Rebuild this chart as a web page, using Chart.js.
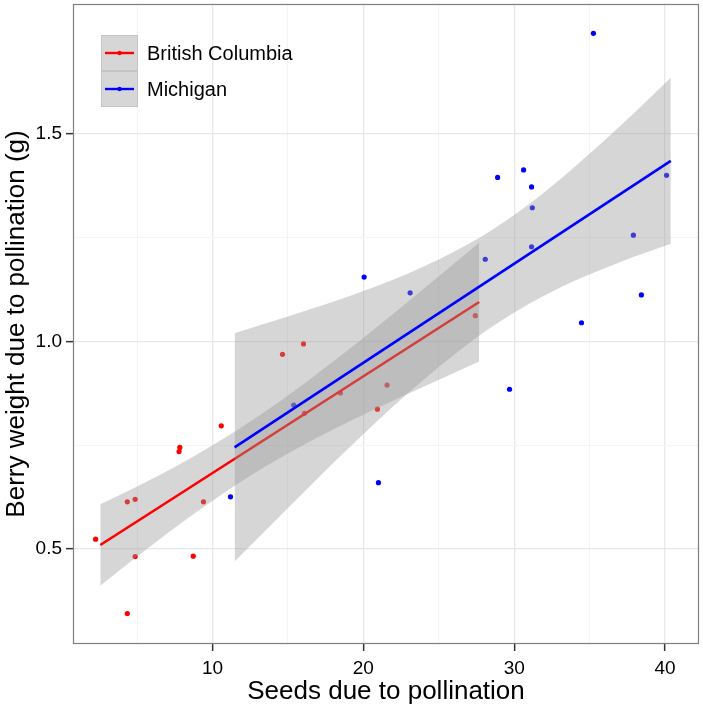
<!DOCTYPE html>
<html>
<head>
<meta charset="utf-8">
<script src="https://cdn.jsdelivr.net/npm/chart.js@4/dist/chart.umd.min.js"></script>
<style>
  html, body { margin: 0; padding: 0; background: #ffffff; }
  #c { display: block; }
</style>
</head>
<body>
<canvas id="c" width="703" height="708"></canvas>
<script>
// ---- data ----
const seriesNames = ['British Columbia', 'Michigan'];

const bcSeeds  = [2.25, 4.35, 4.35, 4.87, 4.87, 7.83, 7.78, 8.72, 9.4, 10.58, 14.64, 16.03, 16.1, 18.48, 20.93, 21.57, 27.42];
const bcWeight = [0.524, 0.345, 0.614, 0.62, 0.482, 0.745, 0.735, 0.483, 0.614, 0.797, 0.969, 0.994, 0.827, 0.876, 0.837, 0.895, 1.062];

const miSeeds  = [11.19, 15.38, 20.05, 21.0, 23.1, 28.08, 28.9, 29.69, 30.62, 31.15, 31.2, 31.15, 34.46, 35.25, 37.9, 38.43, 40.1];
const miWeight = [0.626, 0.847, 1.155, 0.66, 1.117, 1.198, 1.395, 0.885, 1.413, 1.372, 1.322, 1.228, 1.045, 1.742, 1.256, 1.112, 1.4];

// fitted lines (end points)
const bcFitX = [2.56, 27.68];
const bcFitY = [0.510, 1.095];
const miFitX = [11.46, 40.38];
const miFitY = [0.745, 1.435];

// confidence bands
const bcBandX     = [2.56, 5, 8, 11.77, 15, 19, 23, 27.68];
const bcBandUpper = [0.608, 0.651, 0.708, 0.790, 0.870, 0.980, 1.097, 1.238];
const bcBandLower = [0.412, 0.482, 0.565, 0.660, 0.730, 0.806, 0.875, 0.952];

const miBandX     = [11.46, 15, 19, 23, 27, 29, 31, 34, 37, 40.38];
const miBandUpper = [1.020, 1.060, 1.108, 1.164, 1.235, 1.280, 1.331, 1.420, 1.518, 1.635];
const miBandLower = [0.470, 0.599, 0.742, 0.877, 0.996, 1.047, 1.091, 1.146, 1.191, 1.235];

// ticks
const xMajorTicks = [10, 20, 30, 40];
const xMinorTicks = [5, 15, 25, 35];
const yMajorTicks = [0.5, 1.0, 1.5];
const yMinorTicks = [0.75, 1.25];

// ---- helpers ----
const pts = (xs, ys) => xs.map((x, i) => ({ x: x, y: ys[i] }));
const FONT = '"Liberation Sans", Arial, Helvetica, sans-serif';
const BAND = 'rgba(153,153,153,0.4)';
const RED = '#ff0000';
const BLUE = '#0000ff';
const seriesColors = [RED, BLUE];

const xMajorSet = new Set(xMajorTicks);
const yMajorSet = new Set(yMajorTicks.map(v => v.toFixed(2)));

const bandLine = { showLine: true, pointRadius: 0, borderWidth: 0, borderColor: 'rgba(0,0,0,0)', cubicInterpolationMode: 'monotone' };

const datasets = [
  Object.assign({ label: 'bcUpper', data: pts(bcBandX, bcBandUpper), fill: '+1', backgroundColor: BAND, order: 8 }, bandLine),
  Object.assign({ label: 'bcLower', data: pts(bcBandX, bcBandLower), fill: false, order: 8 }, bandLine),
  { label: seriesNames[0] + ' fit', data: pts(bcFitX, bcFitY), showLine: true, pointRadius: 0, borderColor: RED, borderWidth: 2.6, fill: false, order: 7 },
  Object.assign({ label: 'miUpper', data: pts(miBandX, miBandUpper), fill: '+1', backgroundColor: BAND, order: 6 }, bandLine),
  Object.assign({ label: 'miLower', data: pts(miBandX, miBandLower), fill: false, order: 6 }, bandLine),
  { label: seriesNames[1] + ' fit', data: pts(miFitX, miFitY), showLine: true, pointRadius: 0, borderColor: BLUE, borderWidth: 2.6, fill: false, order: 5 },
  { label: seriesNames[0], data: pts(bcSeeds, bcWeight), showLine: false, pointRadius: 2.6, pointBackgroundColor: RED, pointBorderWidth: 0, order: 10 },
  { label: seriesNames[1], data: pts(miSeeds, miWeight), showLine: false, pointRadius: 2.6, pointBackgroundColor: BLUE, pointBorderWidth: 0, order: 10 }
];

const panelPlugin = {
  id: 'panelAndLegend',
  afterDraw(chart) {
    const ctx = chart.ctx;
    const a = chart.chartArea;
    ctx.save();
    // panel border
    ctx.strokeStyle = '#7f7f7f';
    ctx.lineWidth = 1.2;
    ctx.strokeRect(a.left + 0.5, a.top + 0.5, a.right - a.left - 1, a.bottom - a.top - 1);

    // legend
    const kx = 101, ky = 35, kw = 37, kh = 36;
    seriesNames.forEach((name, i) => {
      const y0 = ky + i * kh;
      ctx.fillStyle = BAND;
      ctx.fillRect(kx, y0, kw, kh);
      ctx.strokeStyle = '#c4c4c4';
      ctx.lineWidth = 1;
      ctx.strokeRect(kx + 0.5, y0 + 0.5, kw - 1, kh - 1);
      const cy = y0 + kh / 2;
      ctx.strokeStyle = seriesColors[i];
      ctx.lineWidth = 2.4;
      ctx.beginPath();
      ctx.moveTo(kx + 4, cy);
      ctx.lineTo(kx + kw - 4, cy);
      ctx.stroke();
      ctx.fillStyle = seriesColors[i];
      ctx.beginPath();
      ctx.arc(kx + kw / 2, cy, 2.2, 0, Math.PI * 2);
      ctx.fill();
      ctx.fillStyle = '#000000';
      ctx.font = '20px ' + FONT;
      ctx.textBaseline = 'middle';
      ctx.textAlign = 'left';
      ctx.fillText(name, kx + kw + 9, cy + 1);
    });
    ctx.restore();
  }
};

new Chart(document.getElementById('c'), {
  type: 'scatter',
  data: { datasets: datasets },
  plugins: [panelPlugin],
  options: {
    responsive: false,
    animation: false,
    devicePixelRatio: 1,
    layout: { padding: { top: 3, right: -2, left: 0, bottom: 0 } },
    plugins: { legend: { display: false }, tooltip: { enabled: false } },
    scales: {
      x: {
        type: 'linear',
        min: 0.75,
        max: 42.25,
        afterBuildTicks: (s) => { s.ticks = xMinorTicks.concat(xMajorTicks).sort((a, b) => a - b).map(v => ({ value: v })); },
        afterFit: (s) => { s.height = 64; s.paddingLeft = 0; s.paddingRight = 0; },
        border: { display: false },
        grid: {
          color: (c) => (c.tick && xMajorSet.has(c.tick.value)) ? '#e8e8e8' : '#f4f4f4',
          lineWidth: (c) => (c.tick && xMajorSet.has(c.tick.value)) ? 1.3 : 1,
          tickColor: (c) => (c.tick && xMajorSet.has(c.tick.value)) ? '#333333' : 'rgba(0,0,0,0)',
          tickLength: 7,
          tickWidth: 1.5,
          drawTicks: true
        },
        ticks: {
          autoSkip: false,
          maxRotation: 0,
          padding: 6,
          color: '#000000',
          font: { family: FONT, size: 19 },
          callback: (v) => xMajorSet.has(v) ? String(v) : ''
        },
        title: {
          display: true,
          text: 'Seeds due to pollination',
          color: '#000000',
          font: { family: FONT, size: 26 },
          padding: { top: 0, bottom: 1 }
        }
      },
      y: {
        type: 'linear',
        min: 0.2716,
        max: 1.8125,
        afterBuildTicks: (s) => { s.ticks = yMajorTicks.concat(yMinorTicks).sort((a, b) => a - b).map(v => ({ value: v })); },
        afterFit: (s) => { s.width = 73; s.paddingTop = 0; s.paddingBottom = 0; },
        border: { display: false },
        grid: {
          color: (c) => (c.tick && yMajorSet.has(c.tick.value.toFixed(2))) ? '#e8e8e8' : '#f4f4f4',
          lineWidth: (c) => (c.tick && yMajorSet.has(c.tick.value.toFixed(2))) ? 1.3 : 1,
          tickColor: (c) => (c.tick && yMajorSet.has(c.tick.value.toFixed(2))) ? '#333333' : 'rgba(0,0,0,0)',
          tickLength: 7,
          tickWidth: 1.5,
          drawTicks: true
        },
        ticks: {
          autoSkip: false,
          padding: 4,
          color: '#000000',
          font: { family: FONT, size: 19 },
          callback: (v) => yMajorSet.has(Number(v).toFixed(2)) ? Number(v).toFixed(1) : ''
        },
        title: {
          display: true,
          text: 'Berry weight due to pollination (g)',
          color: '#000000',
          font: { family: FONT, size: 26 },
          padding: { top: 1, bottom: 0 }
        }
      }
    }
  }
});
</script>
</body>
</html>
